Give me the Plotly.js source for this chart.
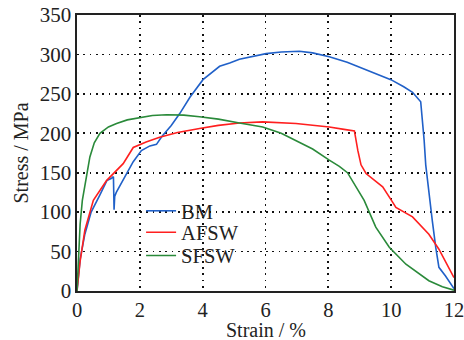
<!DOCTYPE html>
<html><head><meta charset="utf-8">
<script src="https://cdn.plot.ly/plotly-3.0.1.min.js"></script>
<style>html,body{margin:0;padding:0;background:#fff;}#chart{width:464px;height:340px;}</style>
</head><body><div id="chart"></div>
<script>
var bmStrain = [0, 0.1, 0.25, 0.45, 0.73, 0.95, 1.1, 1.16, 1.18, 1.2, 1.25, 1.45, 1.79, 2.05, 2.32, 2.53, 2.7, 3.0, 3.27, 3.6, 4.01, 4.54, 4.86, 5.17, 5.6, 6.02, 6.5, 7.08, 7.5, 8.03, 8.6, 9.09, 9.6, 9.99, 10.4, 10.68, 10.94, 11.0, 11.05, 11.1, 11.2, 11.31, 11.42, 11.52, 11.73, 12.0];
var bmStress = [0, 40, 72, 100, 122, 140, 143, 145, 103, 120, 125, 140, 164, 178, 184, 186, 196, 210, 225, 246, 268, 285, 289, 294, 298, 301, 303, 304, 302, 297, 290, 282, 274, 268, 259, 252, 240, 215, 191, 160, 123, 89, 55, 30, 19, 3];
var afStrain = [0, 0.1, 0.25, 0.52, 0.94, 1.47, 1.79, 2.2, 2.63, 3.2, 3.9, 4.5, 5.17, 5.91, 6.97, 8.03, 8.5, 8.83, 8.94, 9.04, 9.2, 9.5, 9.73, 10.04, 10.15, 10.68, 11.2, 11.52, 11.84, 12.0];
var afStress = [0, 38, 77, 115, 140, 161.5, 182, 189, 195, 201, 206, 210, 213, 214.5, 212.5, 208, 205, 203, 178, 160, 149, 140, 132, 113, 106, 94, 72, 53, 30, 17];
var sfStrain = [0, 0.04, 0.1, 0.17, 0.36, 0.41, 0.55, 0.73, 1.0, 1.26, 1.6, 2.0, 2.4, 2.85, 3.4, 3.9, 4.5, 5.17, 5.91, 6.5, 6.97, 7.5, 8.03, 8.35, 8.61, 8.88, 9.14, 9.51, 9.94, 10.47, 11.2, 11.63, 12.0];
var sfStress = [0, 38, 85, 115, 161, 170, 188, 200, 208, 212.5, 217, 220, 222.5, 223.5, 223, 221, 218, 213, 208, 200, 191, 180, 166, 158, 150, 132, 115, 81, 55.5, 34, 13, 5.5, 1];
var xTicks = [0, 2, 4, 6, 8, 10, 12];
var yTicks = [0, 50, 100, 150, 200, 250, 300, 350];
var xTitle = 'Strain / %';
var yTitle = 'Stress / MPa';

var fontFam = 'Liberation Serif, Times New Roman, serif';
var traces = [
  {x: bmStrain, y: bmStress, name: 'BM', mode: 'lines', line: {color: '#2060c8', width: 1.6}, legend: 'legend'},
  {x: afStrain, y: afStress, name: 'AFSW', mode: 'lines', line: {color: '#ff1f1f', width: 1.6}, legend: 'legend2'},
  {x: sfStrain, y: sfStress, name: 'SFSW', mode: 'lines', line: {color: '#2a8a3a', width: 1.6}, legend: 'legend3'}
];
var axisCommon = {
  showline: true, linecolor: '#222', linewidth: 1.6, mirror: true,
  showgrid: true, gridcolor: '#111', gridwidth: 1.8, griddash: '1.8px,4.5px',
  zeroline: false, ticks: '', ticklabeloverflow: 'allow'
};
function leg(yc) {
  return {x: 0.17, y: yc, xanchor: 'left', yanchor: 'middle', bgcolor: 'rgba(0,0,0,0)',
    font: {family: fontFam, size: 20.5, color: '#222'}, itemwidth: 30};
}
var layout = {
  width: 464, height: 340,
  margin: {l: 77, r: 10, t: 15, b: 49},
  paper_bgcolor: '#fff', plot_bgcolor: '#fff',
  font: {family: fontFam, color: '#222'},
  xaxis: Object.assign({}, axisCommon, {range: [0, 12], tickvals: xTicks, ticktext: xTicks.map(String),
    tickfont: {family: fontFam, size: 20.5, color: '#222'}}),
  yaxis: Object.assign({}, axisCommon, {range: [0, 350], tickvals: yTicks, ticktext: yTicks.map(String),
    tickfont: {family: fontFam, size: 21, color: '#222'},
    title: {text: yTitle, font: {family: fontFam, size: 20, color: '#222'}, standoff: 6}}),
  annotations: [{text: xTitle, xref: 'paper', yref: 'paper', x: 0.5, y: -0.14, xanchor: 'center', yanchor: 'middle',
    showarrow: false, font: {family: fontFam, size: 20, color: '#222'}}],
  showlegend: true,
  legend: leg(0.29),
  legend2: leg(0.212),
  legend3: leg(0.128)
};
Plotly.newPlot('chart', traces, layout, {displayModeBar: false, staticPlot: true});
</script></body></html>
